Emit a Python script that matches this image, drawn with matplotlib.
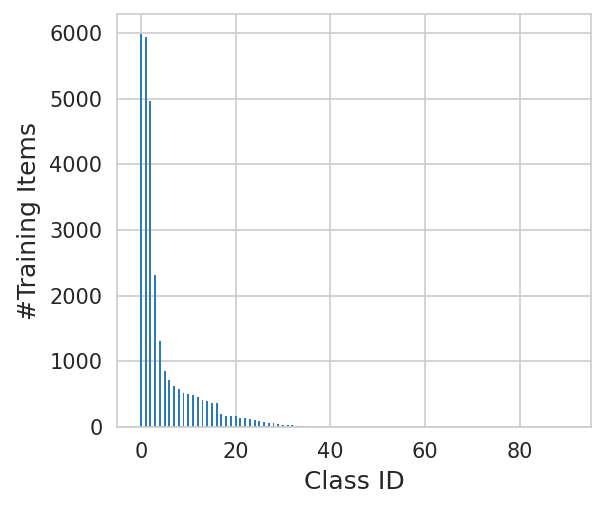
import matplotlib
matplotlib.use("Agg")
import matplotlib.pyplot as plt
import seaborn as sns
import numpy as np

counts_head = [5990, 5934, 4964, 2311, 1306, 847, 719, 628, 577, 520,
               500, 490, 455, 413, 403, 363, 363, 204, 162, 160,
               160, 142, 132, 122, 107, 96, 77, 55, 55, 46,
               35, 35, 25, 20, 12, 8, 4, 2]
num_classes = 91
counts = counts_head + [0] * (num_classes - len(counts_head))
class_ids = list(range(num_classes))

sns.set_style("whitegrid")
plt.rcParams['font.family'] = ['DejaVu Sans']

fig = plt.figure(figsize=(606 / 150, 510 / 150), dpi=150)
ax = fig.add_axes([117 / 606, 1 - 427 / 510, (591 - 117) / 606, (427 - 14) / 510])
ax.bar(class_ids, counts, width=0.4, color="#2b7bba", linewidth=0)
ax.set_xlim(-5.05, 95.05)
ax.set_xlabel("Class ID", fontsize=12)
ax.set_ylabel("#Training Items", fontsize=12)
ax.set_xticks([0, 20, 40, 60, 80])
ax.tick_params(labelsize=10)
fig.savefig("out.png", dpi=150)
